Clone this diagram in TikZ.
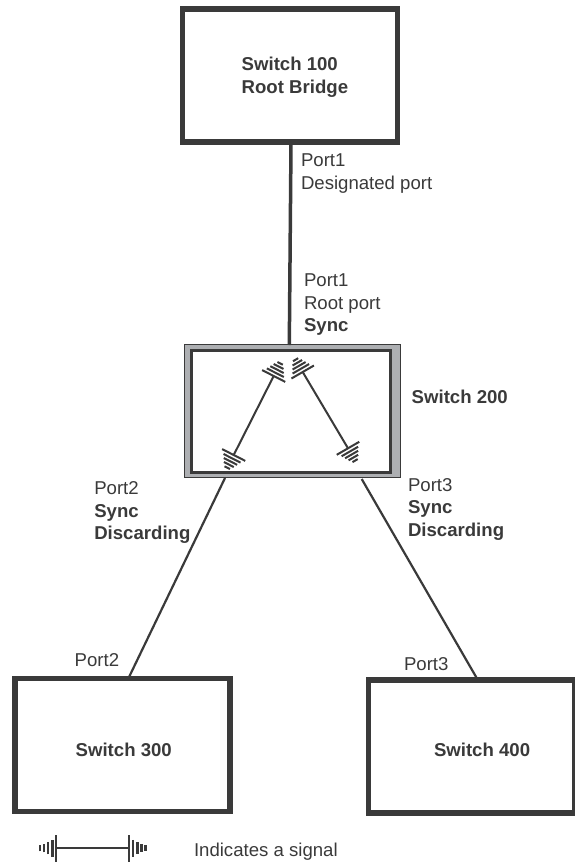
\documentclass[tikz,border=0pt]{standalone}
\usepackage{fontspec}
\setmainfont{Liberation Sans}
\definecolor{ink}{HTML}{3A3A3A}
\definecolor{frame}{HTML}{ADAFB2}
\tikzset{
  x=1pt,y=-1pt,
  box/.style={draw=ink,line width=5.3pt,fill=white,inner sep=0pt,outer sep=0pt,anchor=north west},
  lbl/.style={font=\fontsize{18.6}{22.5}\selectfont,text=ink,align=left,anchor=north west,inner sep=0pt,outer sep=0pt},
  blbl/.style={font=\fontsize{18.6}{22.5}\selectfont\bfseries,text=ink,align=left,anchor=north west,inner sep=0pt,outer sep=0pt},
  thick link/.style={draw=ink,line width=3.5pt},
  thin link/.style={draw=ink,line width=2.2pt},
  signal/.style={draw=ink,line width=2pt},
  pics/comb/.style={code={
    \draw[ink,line width=2pt] (-13,0) -- (13,0);
    \foreach \d/\w in {3.7/9.5,7.2/7.5,10.7/5.5,14.2/3}
      \draw[ink,line width=2pt] (-\w,-\d) -- (\w,-\d);
  }},
  pics/legendcomb/.style={code={
    \draw[ink,line width=2pt] (-13.3,0) -- (13.3,0);
    \foreach \d/\w in {3.7/8.5,8/6,12/4,16/3}
      \draw[ink,line width=2.4pt] (-\w,-\d) -- (\w,-\d);
  }}
}
\begin{document}
\begin{tikzpicture}
\useasboundingbox (0,0) rectangle (574,865);
\node[box,minimum width=215pt,minimum height=133pt] (s100) at (182.7,9) {};
\node[blbl] (s100t) at (241.7,57.5) {Switch 100\\Root Bridge};
\node[box,minimum width=215.5pt,minimum height=132.5pt,draw=ink,line width=1pt,fill=frame] (s200) at (184.5,344.5) {};
\coordinate (in nw) at (191.5,350.5);
\coordinate (in se) at (390.5,472);
\draw[draw=ink,line width=3pt,fill=white] (in nw) rectangle (in se);
\node[box,minimum width=215pt,minimum height=133pt] (s300) at (15,678.7) {};
\node[blbl] (s300t) at (75.7,743.4) {Switch 300};
\node[box,minimum width=206pt,minimum height=133pt] (s400) at (368.5,680) {};
\node[blbl] (s400t) at (434,743.4) {Switch 400};

\coordinate (a1) at (291,144);
\coordinate (a2) at (289.3,345);
\draw[thick link] (a1) -- (a2);
\coordinate (b1) at (225,478);
\coordinate (b2) at (129.3,676.5);
\draw[thin link] (b1) -- (b2);
\coordinate (c1) at (361.7,479);
\coordinate (c2) at (476.7,678);
\draw[thin link] (c1) -- (c2);

% signals in switch 200
\coordinate (l1) at (273.7,376);
\coordinate (l2) at (233.7,455);
\coordinate (r1) at (302.7,372);
\coordinate (r2) at (348,448.3);
\draw[signal] (l1) -- (l2);
\draw[signal] (r1) -- (r2);
\pic[rotate=-27] at (l1) {comb};
\pic[rotate=153] at (l2) {comb};
\pic[rotate=30] at (r1) {comb};
\pic[rotate=210] at (r2) {comb};

% legend
\coordinate (g1) at (56,848.3);
\coordinate (g2) at (129.3,848.3);
\draw[signal] (g1) -- (g2);
\pic[rotate=90] at (g1) {legendcomb};
\pic[rotate=-90] at (g2) {legendcomb};

% labels
\node[lbl] (t1) at (301,153.7) {Port1\\Designated port};
\node[lbl] (t2) at (304,273.7) {Port1\\Root port\\\textbf{Sync}};
\node[blbl] (t3) at (411.7,389.7) {Switch 200};
\node[lbl] (t4) at (94.3,481.7) {Port2\\\textbf{Sync}\\\textbf{Discarding}};
\node[lbl] (t5) at (408,478.4) {Port3\\\textbf{Sync}\\\textbf{Discarding}};
\node[lbl] (t6) at (74.7,653.4) {Port2};
\node[lbl] (t7) at (404,657.7) {Port3};
\node[lbl] (t8) at (194,842.7) {Indicates a signal};
\end{tikzpicture}
\end{document}
